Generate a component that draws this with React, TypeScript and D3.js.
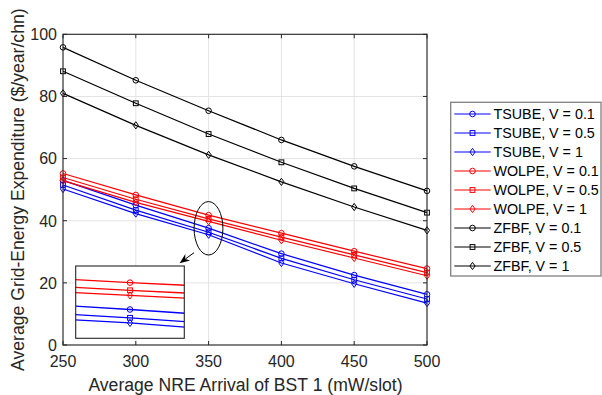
import React from "react";
import * as d3 from "d3";

const xValues = [250, 300, 350, 400, 450, 500];
const xTicks = [250, 300, 350, 400, 450, 500];
const yTicks = [0, 20, 40, 60, 80, 100];

const tsube01 = [53.0, 45.0, 37.6, 29.4, 22.5, 16.3];
const tsube05 = [51.5, 43.4, 36.3, 27.9, 21.0, 14.8];
const tsube1 = [50.2, 42.3, 35.5, 26.4, 19.7, 13.5];
const wolpe01 = [55.2, 48.3, 41.8, 36.0, 30.2, 24.6];
const wolpe05 = [53.9, 46.9, 40.6, 34.7, 29.0, 23.3];
const wolpe1 = [52.9, 45.9, 39.8, 33.7, 28.0, 22.3];
const zfbf01 = [95.8, 85.2, 75.4, 66.0, 57.5, 49.6];
const zfbf05 = [88.1, 77.8, 67.9, 58.8, 50.4, 42.6];
const zfbf1 = [81.0, 70.7, 61.2, 52.5, 44.4, 36.9];

const seriesNames = [
  "TSUBE, V = 0.1", "TSUBE, V = 0.5", "TSUBE, V = 1",
  "WOLPE, V = 0.1", "WOLPE, V = 0.5", "WOLPE, V = 1",
  "ZFBF, V = 0.1", "ZFBF, V = 0.5", "ZFBF, V = 1",
];
const seriesValues = [tsube01, tsube05, tsube1, wolpe01, wolpe05, wolpe1, zfbf01, zfbf05, zfbf1];
const seriesColors = ["#0000ff", "#0000ff", "#0000ff", "#ff0000", "#ff0000", "#ff0000", "#000000", "#000000", "#000000"];
const seriesMarkers = ["o", "s", "d", "o", "s", "d", "o", "s", "d"];

const insetX = [346.5, 353.5];
const insetY = [33.1, 44.4];
const insetFocusX = 350;

const FONT = "'Liberation Sans', Arial, Helvetica, sans-serif";
const AX = "#262626";

function Marker({ type, x, y, color }: { type: string; x: number; y: number; color: string }) {
  if (type === "o") return <circle cx={x} cy={y} r={2.8} fill="none" stroke={color} strokeWidth={1} />;
  if (type === "s") return <rect x={x - 2.4} y={y - 2.4} width={4.8} height={4.8} fill="none" stroke={color} strokeWidth={1} />;
  return <path d={`M${x},${y - 3.6}L${x + 2.6},${y}L${x},${y + 3.6}L${x - 2.6},${y}Z`} fill="none" stroke={color} strokeWidth={1} />;
}

export default function App() {
  const left = 63, right = 427, top = 34.3, bottom = 345;
  const x = d3.scaleLinear().domain([250, 500]).range([left, right]);
  const y = d3.scaleLinear().domain([0, 100]).range([bottom, top]);
  const line = d3.line<number>().x((_, i) => x(xValues[i])).y((d) => y(d));

  const ix0 = 75.7, ix1 = 184.3, iy0 = 266, iy1 = 338.3;
  const ixs = d3.scaleLinear().domain(insetX).range([ix0, ix1]);
  const iys = d3.scaleLinear().domain(insetY).range([iy1, iy0]);
  const insetLine = d3.line<number>().x((_, i) => ixs(xValues[i])).y((d) => iys(d));
  const focusIdx = xValues.indexOf(insetFocusX);

  const legX = 450.7, legY = 102.3, legW = 150.3, legH = 173.7;
  const rowH = 19.0;

  // arrow
  const ax0 = 194, ay0 = 252.7, ax1 = 179.6, ay1 = 263.2;
  const ang = Math.atan2(ay1 - ay0, ax1 - ax0);
  const hl = 10, hw = 4;
  const bx = ax1 - hl * Math.cos(ang), by = ay1 - hl * Math.sin(ang);
  const px = -Math.sin(ang), py = Math.cos(ang);
  const cx = ax1 - hl * 0.7 * Math.cos(ang), cy = ay1 - hl * 0.7 * Math.sin(ang);

  return (
    <svg width={602} height={395} style={{ position: "absolute", left: 0, top: 0, background: "#fff" }} fontFamily={FONT}>
      <rect x={0} y={0} width={602} height={395} fill="#fff" />
      {/* grid */}
      {xTicks.map((t) => (
        <line key={"gx" + t} x1={x(t)} x2={x(t)} y1={top} y2={bottom} stroke="#e3e3e3" strokeWidth={1} />
      ))}
      {yTicks.map((t) => (
        <line key={"gy" + t} x1={left} x2={right} y1={y(t)} y2={y(t)} stroke="#e3e3e3" strokeWidth={1} />
      ))}
      {/* series */}
      {seriesValues.map((vals, si) => (
        <g key={"s" + si}>
          <path d={line(vals) || ""} fill="none" stroke={seriesColors[si]} strokeWidth={1.2} />
          {vals.map((v, i) => (
            <Marker key={i} type={seriesMarkers[si]} x={x(xValues[i])} y={y(v)} color={seriesColors[si]} />
          ))}
        </g>
      ))}
      {/* axes box */}
      <rect x={left} y={top} width={right - left} height={bottom - top} fill="none" stroke={AX} strokeWidth={1.1} />
      {xTicks.map((t) => (
        <g key={"tx" + t}>
          <line x1={x(t)} x2={x(t)} y1={bottom} y2={bottom - 4} stroke={AX} />
          <line x1={x(t)} x2={x(t)} y1={top} y2={top + 4} stroke={AX} />
          <text x={x(t)} y={367} textAnchor="middle" fontSize={16} fill={AX}>{t}</text>
        </g>
      ))}
      {yTicks.map((t) => (
        <g key={"ty" + t}>
          <line x1={left} x2={left + 4} y1={y(t)} y2={y(t)} stroke={AX} />
          <line x1={right} x2={right - 4} y1={y(t)} y2={y(t)} stroke={AX} />
          <text x={57} y={y(t) + 5.8} textAnchor="end" fontSize={16} fill={AX}>{t}</text>
        </g>
      ))}
      <text x={(left + right) / 2 + 0.5} y={390.5} textAnchor="middle" fontSize={17.6} fill={AX}>
        Average NRE Arrival of BST 1 (mW/slot)
      </text>
      <text transform={`translate(23.5, ${(top + bottom) / 2}) rotate(-90)`} textAnchor="middle" fontSize={17.6} fill={AX}>
        Average Grid-Energy Expenditure ($/year/chn)
      </text>

      {/* ellipse and arrow */}
      <ellipse cx={208.5} cy={228.3} rx={14.4} ry={26.7} fill="none" stroke="#000" strokeWidth={1} />
      <line x1={ax0} y1={ay0} x2={cx} y2={cy} stroke="#000" strokeWidth={1} />
      <path d={`M${ax1},${ay1}L${bx + px * hw},${by + py * hw}L${cx},${cy}L${bx - px * hw},${by - py * hw}Z`} fill="#000" />

      {/* inset */}
      <defs>
        <clipPath id="insetClip">
          <rect x={ix0} y={iy0} width={ix1 - ix0} height={iy1 - iy0} />
        </clipPath>
      </defs>
      <rect x={ix0} y={iy0} width={ix1 - ix0} height={iy1 - iy0} fill="#fff" />
      <g clipPath="url(#insetClip)">
        {seriesValues.slice(0, 6).map((vals, si) => (
          <g key={"is" + si}>
            <path d={insetLine(vals) || ""} fill="none" stroke={seriesColors[si]} strokeWidth={1.3} />
            <Marker type={seriesMarkers[si]} x={ixs(xValues[focusIdx])} y={iys(vals[focusIdx])} color={seriesColors[si]} />
          </g>
        ))}
      </g>
      <rect x={ix0} y={iy0} width={ix1 - ix0} height={iy1 - iy0} fill="none" stroke={AX} strokeWidth={1.1} />

      {/* legend */}
      <rect x={legX} y={legY} width={legW} height={legH} fill="#fff" stroke="#808080" strokeWidth={1.3} />
      {seriesNames.map((name, i) => {
        const cyR = legY + 11.7 + i * rowH;
        return (
          <g key={"l" + i}>
            <line x1={454.3} x2={490.7} y1={cyR} y2={cyR} stroke={seriesColors[i]} strokeWidth={1.2} />
            <Marker type={seriesMarkers[i]} x={472.5} y={cyR} color={seriesColors[i]} />
            <text x={493.5} y={cyR + 5.1} fontSize={14.3} fill="#000">{name}</text>
          </g>
        );
      })}
    </svg>
  );
}
